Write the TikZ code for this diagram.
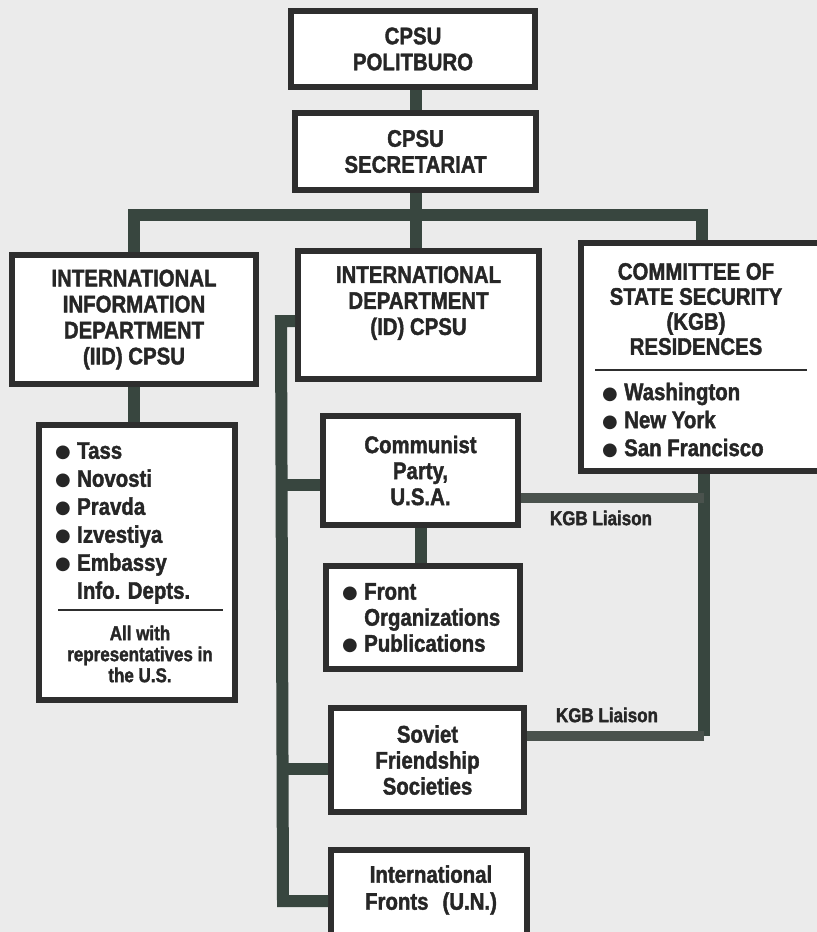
\documentclass[tikz,border=0pt]{standalone}
\usepackage{fontspec}
\setmainfont{Liberation Sans}[FakeStretch=0.85, BoldFeatures={FakeBold=1.6}]
\newfontfamily\symf{DejaVu Sans}
\definecolor{bgc}{HTML}{EBEBEB}
\definecolor{boxc}{HTML}{2E2E2E}
\definecolor{txtc}{HTML}{262626}
\definecolor{conc}{HTML}{38463F}
\definecolor{liac}{HTML}{4A524D}
\newcommand\bul{\makebox[22bp][l]{\raisebox{1bp}{\fontsize{18bp}{18bp}\symf ●}}}
\newcommand\bulsp{\makebox[22bp][l]{}}
\tikzset{
  box/.style={draw=boxc, line width=6bp, fill=white, inner sep=0pt},
  txt/.style={font=\bfseries\fontsize{24bp}{26bp}\selectfont, text=txtc, align=center, inner sep=0pt},
  lst/.style={font=\bfseries\fontsize{24bp}{28bp}\selectfont, text=txtc, align=left, inner sep=0pt, anchor=west},
  small/.style={font=\bfseries\fontsize{20bp}{21bp}\selectfont, text=txtc, align=center, inner sep=0pt},
  conn/.style={draw=conc, line width=12bp, line join=miter},
  liaison/.style={draw=liac, line width=10bp, line join=miter},
  sep/.style={draw=boxc, line width=2.5bp},
}
\begin{document}
\begin{tikzpicture}[x=1bp,y=-1bp]
\fill[bgc] (0,0) rectangle (817,932);
\useasboundingbox (0,0) rectangle (817,932);

% boxes
\node[box, txt, minimum width=244bp, minimum height=76bp] (pol) at (413,49) {CPSU\\POLITBURO};
\node[box, txt, minimum width=241bp, minimum height=77bp] (sec) at (415.5,151.5) {CPSU\\SECRETARIAT};
\node[box, txt, minimum width=244bp, minimum height=129bp] (iid) at (134,319.5) {INTERNATIONAL\\INFORMATION\\DEPARTMENT\\(IID) CPSU};
\node[box, minimum width=196bp, minimum height=275bp] (tass) at (137,562.5) {};
\node[box, minimum width=241bp, minimum height=128bp] (id) at (418.5,315) {};
\node[box, minimum width=241bp, minimum height=228bp] (kgb) at (701.5,357) {};
\node[box, txt, minimum width=195bp, minimum height=109bp] (cp) at (420.5,470.5) {Communist\\Party,\\U.S.A.};
\node[box, minimum width=194bp, minimum height=103bp] (front) at (423,617.5) {};
\node[box, txt, minimum width=193bp, minimum height=104bp] (sfs) at (427.5,760) {Soviet\\Friendship\\Societies};
\node[box, minimum width=196bp, minimum height=92bp] (intf) at (429,896) {};

% texts placed inside boxes
\node[txt] (idt) at (418.5,303) {INTERNATIONAL\\DEPARTMENT\\(ID) CPSU};
\node[txt, font=\bfseries\fontsize{24bp}{25bp}\selectfont] (kgbt) at (696,309) {COMMITTEE OF\\STATE SECURITY\\(KGB)\\RESIDENCES};
\node[lst] (kgbl) at (602,420) {\bul Washington\\\bul New York\\\bul San Francisco};
\node[lst] (tassl) at (55,523) {\bul Tass\\\bul Novosti\\\bul Pravda\\\bul Izvestiya\\\bul Embassy\\\bulsp Info. Depts.};
\node[small] (allw) at (140,654) {All with\\representatives in\\the U.S.};
\node[lst, font=\bfseries\fontsize{24bp}{26bp}\selectfont] (frontl) at (342,618) {\bul Front\\\bulsp Organizations\\\bul Publications};
\node[txt, font=\bfseries\fontsize{24bp}{27bp}\selectfont] (intft) at (431,890) {International\\Fronts\hspace{14bp}(U.N.)};

% separators
\coordinate (ts1) at (58,610); \coordinate (ts2) at (223,610);
\draw[sep] (ts1) -- (ts2);
\coordinate (ks1) at (595,370); \coordinate (ks2) at (807,370);
\draw[sep] (ks1) -- (ks2);

% connectors
\coordinate (busL) at (134,215);
\coordinate (busR) at (702,215);
\draw[conn] (pol.south -| sec.south) -- (sec.north);
\draw[conn] (sec.south) -- (sec.south |- id.north);
\draw[conn] (iid.north) -- (busL) -- (busR) -- (busR |- kgb.north);
\draw[conn] (iid.south) -- (iid.south |- tass.north);
\draw[conn] (cp.south) -- (cp.south |- front.north);

\coordinate (lbT) at (281,321);
\coordinate (lbB) at (283,901);
\coordinate (cpS) at (281.5,485);
\coordinate (sfS) at (282.5,769);
\draw[conn] (lbT -| id.west) -- (lbT) -- (lbB) -- (lbB -| intf.west);
\draw[conn] (cpS) -- (cpS -| cp.west);
\draw[conn] (sfS) -- (sfS -| sfs.west);

\coordinate (kv1) at (704,498);
\coordinate (kv2) at (704,736);
\draw[conn] (kv1 |- kgb.south) -- (kv2);
\draw[liaison] (kv1) -- (kv1 -| cp.east);
\draw[liaison] (kv2) -- (kv2 -| sfs.east);
\node[small] (lab1) at (601,518) {KGB Liaison};
\node[small] (lab2) at (607,715) {KGB Liaison};
\end{tikzpicture}
\end{document}
